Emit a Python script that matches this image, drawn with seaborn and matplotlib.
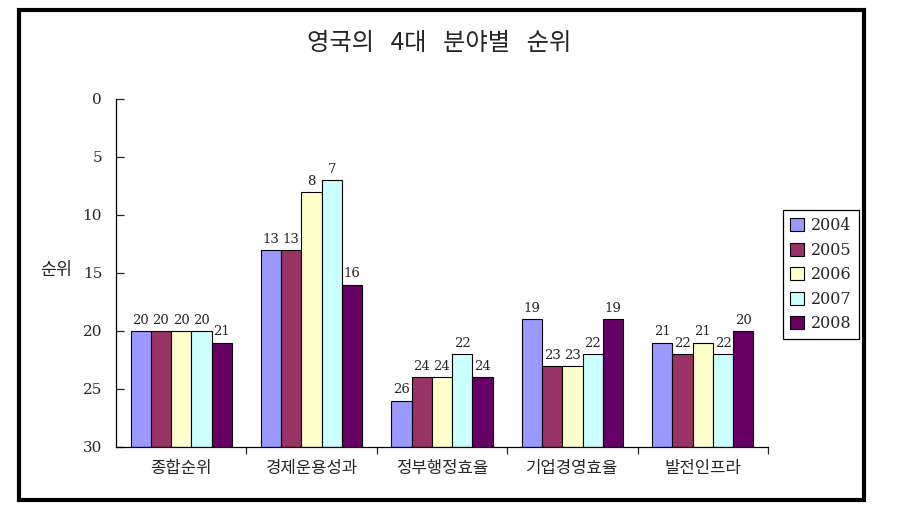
import matplotlib
matplotlib.use('Agg')
import matplotlib.pyplot as plt
import seaborn as sns
import pandas as pd
import numpy as np
from matplotlib.patches import Rectangle

# ---- data ----
categories = ['종합순위', '경제운용성과', '정부행정효율', '기업경영효율', '발전인프라']
years = ['2004', '2005', '2006', '2007', '2008']
rank_2004 = [20, 13, 26, 19, 21]
rank_2005 = [20, 13, 24, 23, 22]
rank_2006 = [20, 8, 24, 23, 21]
rank_2007 = [20, 7, 22, 22, 22]
rank_2008 = [21, 16, 24, 19, 20]
y_ticks = [0, 5, 10, 15, 20, 25, 30]
max_rank = 30
title = '영국의   4대   분야별   순위'
y_label = '순위'
colors = ['#9999FF', '#993366', '#FFFFCC', '#CCFFFF', '#660066']

ranks = [rank_2004, rank_2005, rank_2006, rank_2007, rank_2008]
rows = []
for yr, rk in zip(years, ranks):
    for cat, r in zip(categories, rk):
        rows.append({'category': cat, 'year': yr, 'rank': r, 'h': max_rank - r})
df = pd.DataFrame(rows)

sns.set_style('white')
plt.rcParams['font.family'] = ['DejaVu Serif', 'Noto Sans CJK KR']

W, H = 906, 527
fig = plt.figure(figsize=(W / 100, H / 100), dpi=100)
ax = fig.add_axes([116 / W, 1 - 447 / H, (768 - 116) / W, (447 - 99) / H])

sns.barplot(data=df, x='category', y='h', hue='year', order=categories,
            hue_order=years, palette=colors, width=0.777, saturation=1,
            edgecolor='black', linewidth=0.8, ax=ax)

for cont, rk in zip(ax.containers, ranks):
    ax.bar_label(cont, labels=[str(r) for r in rk], padding=3, fontsize=9.5,
                 family=['DejaVu Serif'])

ax.set_xlim(-0.5, len(categories) - 0.5)
ax.set_ylim(0, max_rank)
ax.set_yticks([max_rank - t for t in y_ticks])
ax.set_yticklabels([str(t) for t in y_ticks], fontsize=11)
ax.tick_params(axis='y', direction='in', length=6, width=0.9, pad=10, left=True)

ax.set_xticks(range(len(categories)))
ax.set_xticklabels(categories, fontsize=12, family=['Noto Sans CJK KR'])
ax.set_xticks(np.arange(len(categories)) + 0.5, minor=True)
ax.tick_params(axis='x', which='major', length=0, pad=9)
ax.tick_params(axis='x', which='minor', direction='out', length=5, width=0.9, bottom=True)
ax.set_xlabel('')

ax.set_ylabel(y_label, rotation=0, fontsize=12.5, family=['Noto Sans CJK KR'])
ax.yaxis.set_label_coords((56 - 116) / (768 - 116), (447 - 270) / (447 - 99))
ax.yaxis.label.set_ha('center')
ax.yaxis.label.set_va('center')

for s in ['top', 'right']:
    ax.spines[s].set_visible(False)
for s in ['left', 'bottom']:
    ax.spines[s].set_color('black')
    ax.spines[s].set_linewidth(0.9)

handles, labels = ax.get_legend_handles_labels()
leg = ax.legend(handles, labels, loc='upper left',
                bbox_to_anchor=(783 / W, 1 - 210 / H), bbox_transform=fig.transFigure,
                frameon=True, fancybox=False, edgecolor='black', framealpha=1,
                borderpad=0.45, handlelength=0.85, handleheight=0.85,
                handletextpad=0.45, labelspacing=0.47, fontsize=11.5, borderaxespad=0)
leg.get_frame().set_linewidth(0.9)
for h in leg.legend_handles:
    h.set_edgecolor('black')
    h.set_linewidth(0.8)

fig.text(439 / W, 1 - 43 / H, title, ha='center', va='center', fontsize=17.5,
         family=['Noto Sans CJK KR'])

fig.patches.append(Rectangle((19 / W, 1 - 500 / H), 845 / W, 490 / H,
                             transform=fig.transFigure, fill=False,
                             linewidth=3, edgecolor='black'))

fig.savefig('out.png', dpi=100)
